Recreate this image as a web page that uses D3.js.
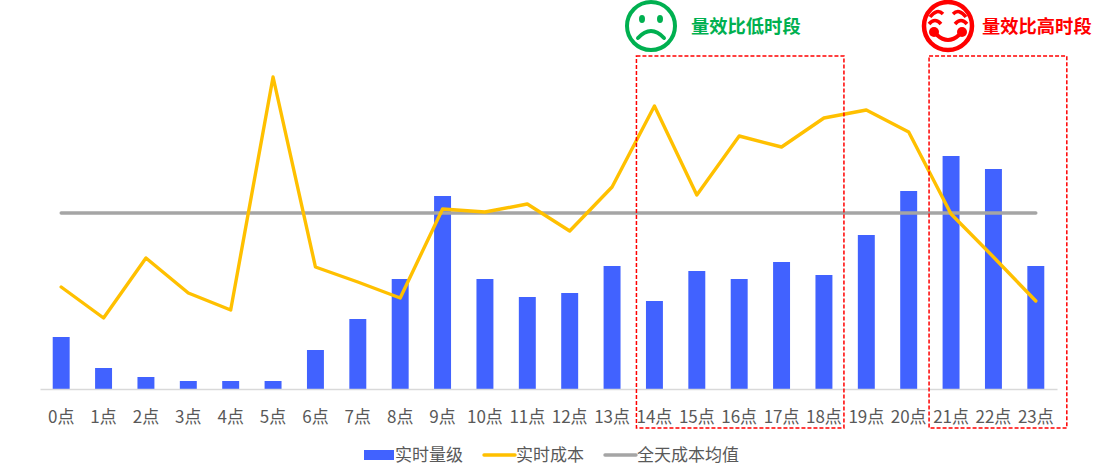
<!DOCTYPE html>
<html>
<head>
<meta charset="utf-8">
<script src="https://cdn.jsdelivr.net/npm/d3@7"></script>
<style>
  html, body { margin: 0; padding: 0; background: #fff; }
  text { font-family: "Noto Sans CJK SC", "Noto Sans", sans-serif; }
</style>
</head>
<body>
<div id="canvas"></div>
<script>
var hours = ["0点","1点","2点","3点","4点","5点","6点","7点","8点","9点","10点","11点","12点","13点","14点","15点","16点","17点","18点","19点","20点","21点","22点","23点"];
var volume = [52,21,12,8,8,8,39,70,110,193,110,92,96,123,88,118,110,127,114,154,198,233,220,123];
var cost = [102,71,131,96,79,312,122,107,91,180,177,185,158,202,283,194,253,242,271,279,257,175,132,88];
var avgCost = hours.map(function(){ return 176; });
var legendNames = ["实时量级","实时成本","全天成本均值"];
var lowHours = ["14点","18点"];
var highHours = ["21点","23点"];

var width = 1095, height = 467;
var margin = {top: 49, right: 38, bottom: 78, left: 40};

var svg = d3.select("#canvas").append("svg")
    .attr("width", width)
    .attr("height", height)
    .style("display", "block");

var x = d3.scaleBand()
    .domain(hours)
    .range([margin.left, width-margin.right])
    .paddingInner(0.6)
    .paddingOuter(0.3);
var y = d3.scaleLinear()
    .domain([0,340])
    .range([height-margin.bottom, margin.top]);
var cx = function(d){ return x(d)+x.bandwidth()/2; };

// Bars
svg.append("g").selectAll("rect")
    .data(volume)
    .enter().append("rect")
    .attr("x", function(d,i){ return x(hours[i]); })
    .attr("y", function(d){ return y(d); })
    .attr("width", x.bandwidth())
    .attr("height", function(d){ return y(0)-y(d); })
    .attr("fill", "#4162ff");

// Axis
var axis = svg.append("g")
    .attr("transform", "translate(0,"+y(0)+")")
    .call(d3.axisBottom(x).tickSize(0).tickPadding(20));
axis.select(".domain").attr("stroke", "#d9d9d9").attr("stroke-width", 1.5);
axis.selectAll("text")
    .attr("fill", "#595959")
    .attr("dy", "0.85em")
    .style("font-size", "17px")
    .style("font-family", '"Noto Sans CJK SC", sans-serif');

// Lines
var line = d3.line()
    .x(function(d,i){ return cx(hours[i]); })
    .y(function(d){ return y(d); });
svg.append("path").datum(avgCost)
    .attr("d", line).attr("fill", "none")
    .attr("stroke", "#a5a5a5").attr("stroke-width", 3.4).attr("stroke-linecap", "round");
svg.append("path").datum(cost)
    .attr("d", line).attr("fill", "none")
    .attr("stroke", "#ffc000").attr("stroke-width", 3.4)
    .attr("stroke-linecap", "round").attr("stroke-linejoin", "round");

// Dashed boxes
function box(range, pad){
  svg.append("rect")
    .attr("x", cx(range[0])-pad[0])
    .attr("y", 56)
    .attr("width", cx(range[1])-cx(range[0])+pad[0]+pad[1])
    .attr("height", 372)
    .attr("fill", "none")
    .attr("stroke", "#ff0000")
    .attr("stroke-width", 1.5)
    .attr("stroke-dasharray", "4 2");
}
box(lowHours, [18,20]);
box(highHours, [22,31]);

// Sad face
var sad = svg.append("g").attr("transform", "translate(651,26)")
    .attr("fill", "none").attr("stroke", "#00b050");
sad.append("circle").attr("r", 24).attr("stroke-width", 4);
sad.append("ellipse").attr("cx", -9).attr("cy", -7).attr("rx", 3).attr("ry", 4).attr("fill", "#00b050").attr("stroke", "none");
sad.append("ellipse").attr("cx", 9).attr("cy", -7).attr("rx", 3).attr("ry", 4).attr("fill", "#00b050").attr("stroke", "none");
sad.append("path").attr("d", "M-13,12 Q0,-2 13,12").attr("stroke-width", 4).attr("stroke-linecap", "round");

// Happy face
var happy = svg.append("g").attr("transform", "translate(948,26)")
    .attr("fill", "none").attr("stroke", "#ff0000");
happy.append("circle").attr("r", 24).attr("stroke-width", 4.5);
[-1,1].forEach(function(s){
  happy.append("path").attr("d", "M"+(s*5)+",-12 Q"+(s*11)+",-18 "+(s*18)+",-9").attr("stroke-width", 3.5);
  happy.append("path").attr("d", "M"+(s*7)+",-2 Q"+(s*13)+",-9 "+(s*19)+",-2").attr("stroke-width", 3.5);
  happy.append("circle").attr("cx", s*14).attr("cy", 6).attr("r", 5).attr("fill", "#ff0000").attr("stroke", "none");
});
happy.append("path").attr("d", "M-11,9 Q0,19 11,9").attr("stroke-width", 4).attr("stroke-linecap", "round");

// Notes
svg.append("text").attr("x", 691).attr("y", 33).attr("fill", "#00b050")
    .attr("font-size", 18.3).attr("font-weight", 700).text("量效比低时段");
svg.append("text").attr("x", 982).attr("y", 33).attr("fill", "#ff0000")
    .attr("font-size", 18.3).attr("font-weight", 700).text("量效比高时段");

// Legend
var ly = 455;
svg.append("rect").attr("x", 364).attr("y", ly-5).attr("width", 30).attr("height", 10).attr("fill", "#4162ff");
svg.append("line").attr("x1", 484).attr("x2", 515).attr("y1", ly).attr("y2", ly)
    .attr("stroke", "#ffc000").attr("stroke-width", 3.4).attr("stroke-linecap", "round");
svg.append("line").attr("x1", 605).attr("x2", 636).attr("y1", ly).attr("y2", ly)
    .attr("stroke", "#a5a5a5").attr("stroke-width", 3.4).attr("stroke-linecap", "round");
[395,516,637].forEach(function(lx,i){
  svg.append("text").attr("x", lx).attr("y", ly+6).attr("fill", "#595959")
    .attr("font-size", 17).text(legendNames[i]);
});
</script>
</body>
</html>
